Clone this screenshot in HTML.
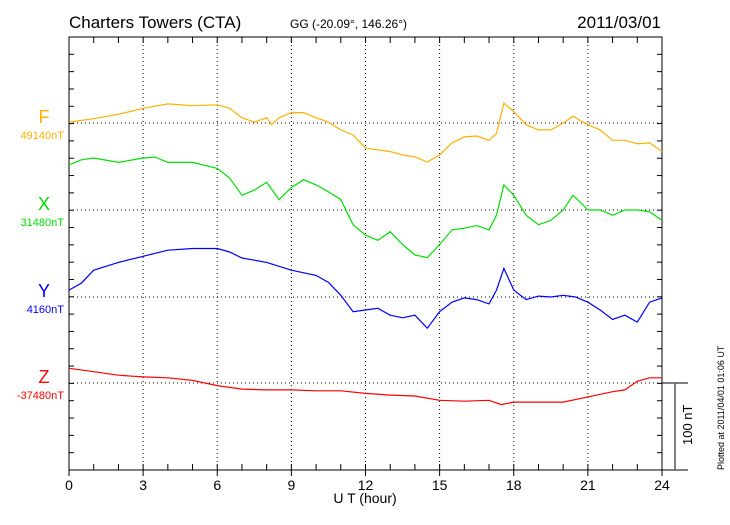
<!DOCTYPE html>
<html><head><meta charset="utf-8"><style>
body{margin:0;background:#fff;width:730px;height:520px;overflow:hidden;font-family:"Liberation Sans",sans-serif}
</style></head><body>
<svg id="chart" width="730" height="520" xmlns="http://www.w3.org/2000/svg" font-family="Liberation Sans, sans-serif">
<text x="69" y="28" font-size="17">Charters Towers (CTA)</text>
<text x="290" y="28" font-size="12">GG (-20.09°, 146.26°)</text>
<text x="661" y="28" font-size="17" text-anchor="end">2011/03/01</text>
<text x="365" y="503" font-size="14" text-anchor="middle">U T (hour)</text>
<text transform="translate(724,470) rotate(-90)" font-size="9">Plotted at 2011/04/01 01:06 UT</text>
<text transform="translate(692,445) rotate(-90)" font-size="13">100 nT</text>
<g id="axes"></g>
<g id="series"></g>
</svg>
<script>
const tF=[0,1,2,3,4,5,6,6.5,7,7.5,8,8.2,8.5,9,9.5,10,10.5,11,11.5,12,12.5,13,13.5,14,14.5,15,15.5,16,16.5,17,17.3,17.6,18,18.5,19,19.5,20,20.4,20.8,21,21.5,22,22.5,23,23.5,24];
const vF=[1,5,10,17,22,20,21,17,6,1,6,-2,6,12,12,6,1,-8,-14,-29,-31,-33,-37,-39,-45,-37,-23,-16,-15,-20,-12,23,13,-2,-8,-8,0,8,1,-2,-8,-20,-20,-24,-23,-33];
const tX=[0,0.5,1,2,3,3.5,4,5,6,6.5,7,7.5,8,8.5,9,9.5,10,10.5,11,11.5,12,12.5,13,13.5,14,14.5,15,15.5,16,16.5,17,17.3,17.6,18,18.5,19,19.5,20,20.4,20.8,21,21.5,22,22.5,23,23.5,24];
const vX=[52,58,60,55,60,61,55,55,48,37,17,23,32,12,26,35,29,21,12,-17,-29,-35,-25,-40,-52,-55,-40,-23,-21,-18,-23,-6,29,17,-6,-17,-12,0,17,6,0,0,-6,0,0,-2,-12];
const tY=[0,0.5,1,2,3,4,5,6,6.5,7,8,9,10,10.5,11,11.5,12,12.5,13,13.5,14,14.5,15,15.5,16,16.5,17,17.3,17.6,18,18.5,19,19.5,20,20.5,21,21.5,22,22.5,23,23.5,24];
const vY=[8,16,31,40,47,54,56,56,52,45,40,31,25,17,2,-17,-15,-13,-21,-24,-21,-36,-17,-6,-1,-3,-8,8,33,8,-3,1,0,2,0,-6,-15,-26,-21,-29,-6,-1];
const tZ=[0,1,2,3,4,5,6,7,8,9,10,11,12,13,14,15,16,17,17.5,18,19,20,21,22,22.5,23,23.5,24];
const vZ=[17,13,9,7,6,3,-3,-7,-8,-8,-9,-9,-12,-14,-15,-20,-21,-20,-25,-22,-22,-22,-16,-10,-8,2,6,6];
const names=["F","X","Y","Z"];
const baseLabels=["49140nT","31480nT","4160nT","-37480nT"];
const colors=["#ffb000","#00e000","#0000ff","#ff0000"];
const xTicks=[0,3,6,9,12,15,18,21,24];

const L=69,R=662,T=37,B=470,NS="http://www.w3.org/2000/svg";
const pxPerNT=86.6/100;
const bases=[123,210,297,383];
const xs=h=>L+(R-L)*h/24;
const ys=(i,v)=>bases[i]-v*pxPerNT;
function mk(tag,at,parent){const e=document.createElementNS(NS,tag);for(const k in at)e.setAttribute(k,at[k]);parent.appendChild(e);return e;}
const ax=document.getElementById('axes');
const frame=mk('rect',{x:L,y:T,width:R-L,height:B-T,fill:'none',stroke:'#000','stroke-width':1},ax);


for(let h=0;h<=24;h++){
  const x=xs(h);
  mk('line',{x1:x,y1:T,x2:x,y2:T+6,stroke:'#000'},ax);
  mk('line',{x1:x,y1:B,x2:x,y2:B-6,stroke:'#000'},ax);
}
xTicks.forEach(h=>{
  const x=xs(h);
  if(h>0&&h<24){const g=mk('line',{x1:x,y1:T,x2:x,y2:B,stroke:'#000','stroke-dasharray':'1,3'},ax);
  
  }
  mk('line',{x1:x,y1:B,x2:x,y2:B+6,stroke:'#000'},ax);
  const t=mk('text',{x:x,y:B+20,'font-size':14,'text-anchor':'middle'},ax);t.textContent=h;
  
  
});
for(let k=0;k<=25;k++){
  const y=T+(B-T)*k/25;
  mk('line',{x1:L,y1:y,x2:L+5,y2:y,stroke:'#000'},ax);
  mk('line',{x1:R,y1:y,x2:R-5,y2:y,stroke:'#000'},ax);
}
mk('line',{x1:R,y1:B,x2:688,y2:B,stroke:'#000'},ax);
mk('line',{x1:R,y1:bases[3],x2:688,y2:bases[3],stroke:'#000'},ax);
const sb=mk('line',{x1:675,y1:bases[3],x2:675,y2:B,stroke:'#555','stroke-width':1.5},ax);


bases.forEach((b,i)=>{
  const g=mk('line',{x1:L,y1:b,x2:R,y2:b,stroke:'#000','stroke-dasharray':'1,3'},ax);
  
  
  const n=mk('text',{x:44,y:b-0,'font-size':18,'text-anchor':'middle',fill:colors[i]},ax);n.textContent=names[i];
  
  
  const v=mk('text',{x:64,y:b+16,'font-size':11,'text-anchor':'end',fill:colors[i]},ax);v.textContent=baseLabels[i];
  
  
});
const sg=document.getElementById('series');
[[tF,vF],[tX,vX],[tY,vY],[tZ,vZ]].forEach(([t,v],i)=>{
  const d=t.map((h,j)=>(j?'L':'M')+xs(h).toFixed(1)+','+ys(i,v[j]).toFixed(1)).join('');
  const p=mk('path',{d:d,fill:'none',stroke:colors[i],'stroke-width':1.2},sg);
  
  
});
</script>
</body></html>
